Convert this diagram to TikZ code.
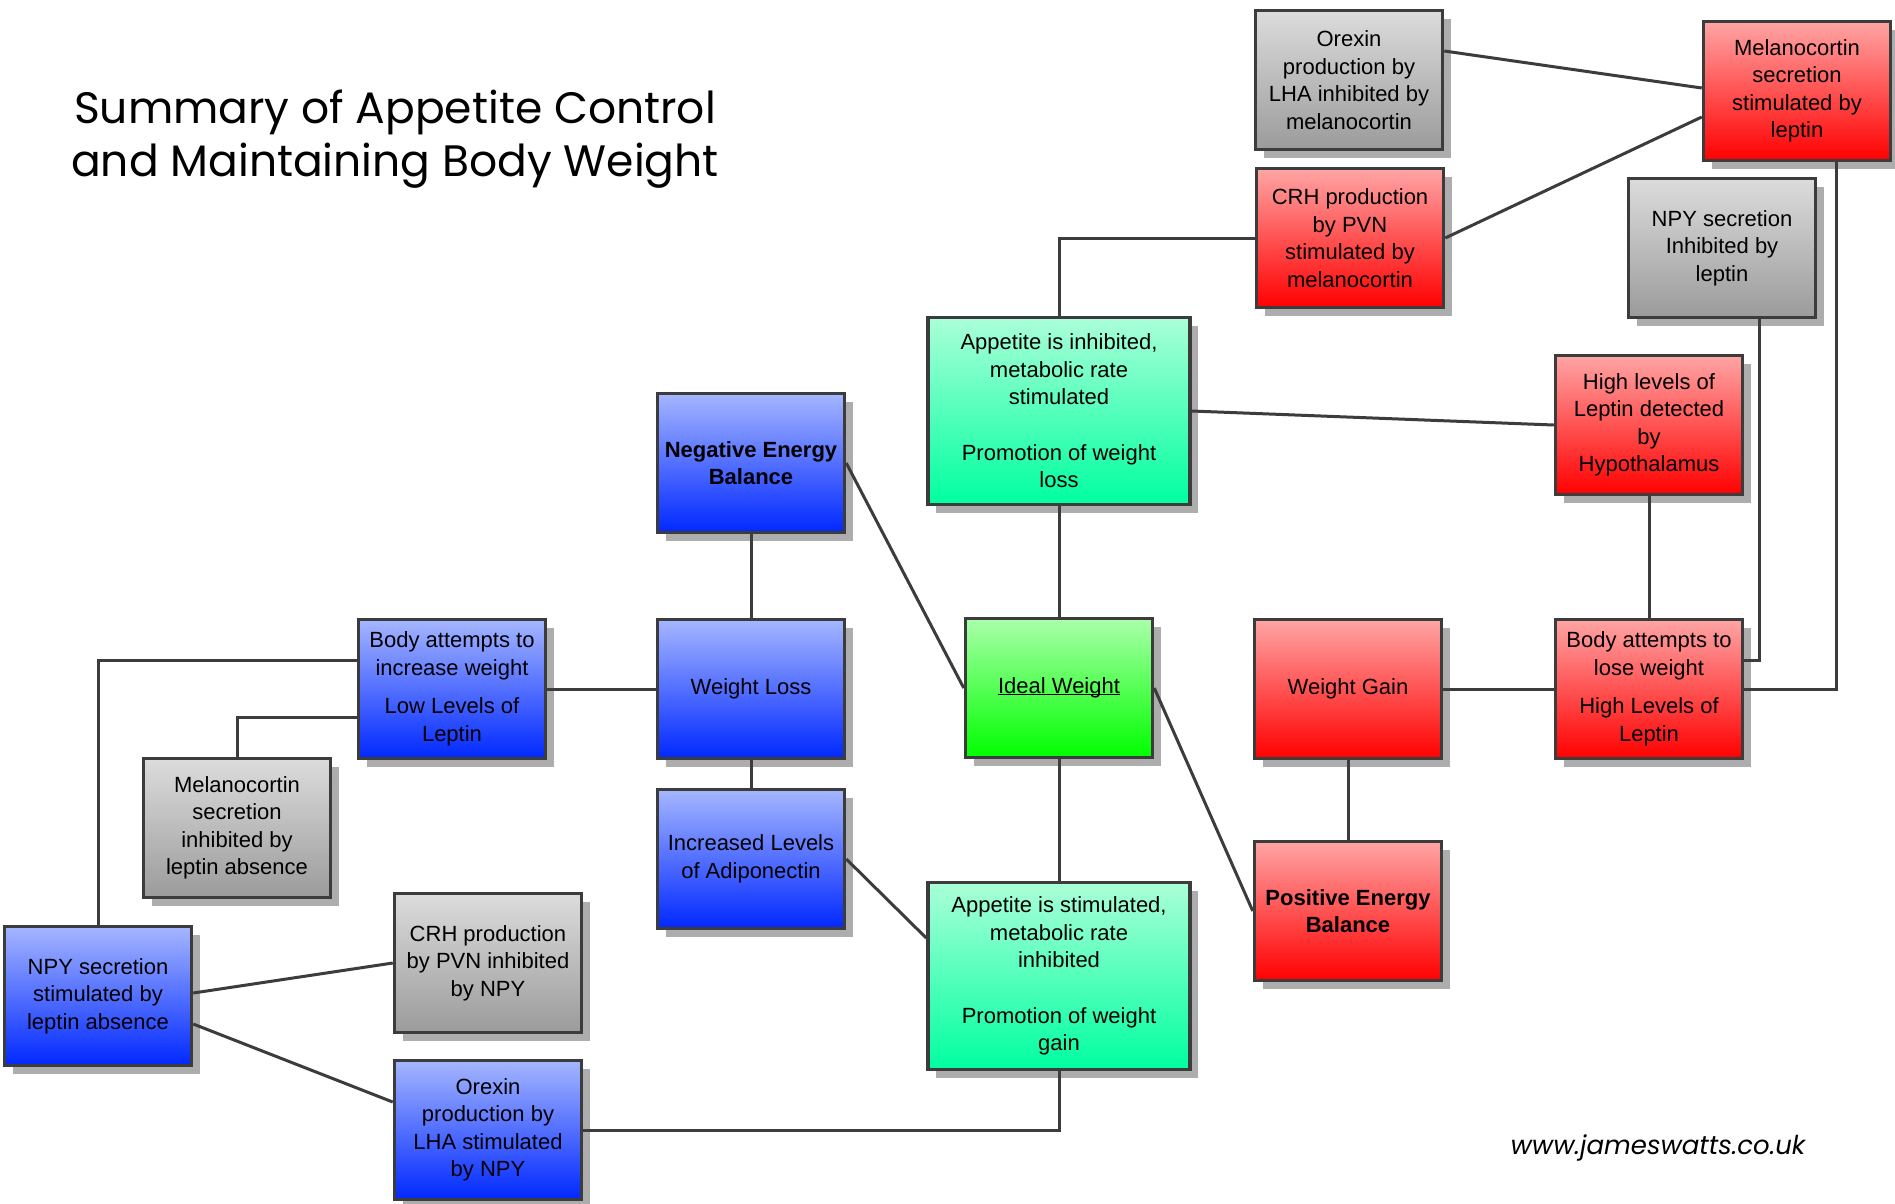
\documentclass[tikz,border=0pt]{standalone}
\usepackage{fontspec}
\setmainfont{Liberation Sans}
\newfontfamily\titlefont{Poppins}
\usetikzlibrary{shadows}

\definecolor{blueTop}{RGB}{165,182,255}
\definecolor{blueBot}{RGB}{0,40,255}
\definecolor{redTop}{RGB}{255,165,165}
\definecolor{redBot}{RGB}{255,0,0}
\definecolor{grayTop}{RGB}{220,220,220}
\definecolor{grayBot}{RGB}{155,155,155}
\definecolor{tealTop}{RGB}{170,255,215}
\definecolor{tealBot}{RGB}{0,255,160}
\definecolor{greenTop}{RGB}{170,255,170}
\definecolor{greenBot}{RGB}{0,255,0}
\definecolor{edge}{RGB}{60,60,60}

\begin{document}
\begin{tikzpicture}[
        x=1pt, y=-1pt,
        box/.style={draw=edge, line width=3.5pt, rectangle, minimum width=187pt, minimum height=139pt,
            inner sep=2pt, align=center, font=\fontsize{22}{27.5}\selectfont,
            drop shadow={shadow xshift=8pt, shadow yshift=-8pt, fill=black!32, opacity=1}},
        wide/.style={minimum width=262pt, minimum height=187pt},
        bluebox/.style={box, top color=blueTop, bottom color=blueBot},
        redbox/.style={box, top color=redTop, bottom color=redBot},
        graybox/.style={box, top color=grayTop, bottom color=grayBot},
        tealbox/.style={box, wide, top color=tealTop, bottom color=tealBot},
        greenbox/.style={box, top color=greenTop, bottom color=greenBot},
        link/.style={draw=edge, line width=3pt}
    ]
        \useasboundingbox (0,0) rectangle (1895,1203);
        \fill[white] (0,0) rectangle (1895,1203);

        % === Title and source ===
        \node[font=\titlefont\fontsize{44}{53}\selectfont, align=center] (title) at (395,139)
            {Summary of Appetite Control\\and Maintaining Body Weight};
        \node[font=\titlefont\itshape\fontsize{26}{30}\selectfont] (site) at (1658,1148) {www.jameswatts.co.uk};

        % === Hypothalamus, top right ===
        \node[graybox] (orexinInh)  at (1349,80)   {Orexin\\production by\\LHA inhibited by\\melanocortin};
        \node[redbox]  (melanoStim) at (1797,91)   {Melanocortin\\secretion\\stimulated by\\leptin};
        \node[redbox]  (crhStim)    at (1350,238)  {CRH production\\by PVN\\stimulated by\\melanocortin};
        \node[graybox] (npyInh)     at (1722,248)  {NPY secretion\\Inhibited by\\leptin};
        \node[redbox]  (highLep)    at (1649,425)  {High levels of\\Leptin detected\\by\\Hypothalamus};

        % === Middle row ===
        \node[tealbox]  (apInh)      at (1059,411) {Appetite is inhibited,\\metabolic rate\\stimulated\\[28pt]Promotion of weight\\loss};
        \node[bluebox]  (negEB)      at (751,463)  {\bfseries Negative Energy\\\bfseries Balance};
        \node[bluebox]  (weightLoss) at (751,689)  {Weight Loss};
        \node[greenbox] (idealW)     at (1059,688) {\underline{\smash{Ideal Weight}}\vphantom{Ig}};
        \node[redbox]   (weightGain) at (1348,689) {Weight Gain};
        \node[redbox]   (bodyLose)   at (1649,689) {Body attempts to\\lose weight\\[11pt]High Levels of\\Leptin};
        \node[bluebox]  (bodyInc)    at (452,689)  {Body attempts to\\increase weight\\[11pt]Low Levels of\\Leptin};

        % === Lower half ===
        \node[graybox]  (melanoInh)  at (237,828)  {Melanocortin\\secretion\\inhibited by\\leptin absence};
        \node[bluebox]  (adipo)      at (751,859)  {Increased Levels\\of Adiponectin};
        \node[tealbox]  (apStim)     at (1059,976) {Appetite is stimulated,\\metabolic rate\\inhibited\\[28pt]Promotion of weight\\gain};
        \node[redbox]   (posEB)      at (1348,911) {\bfseries Positive Energy\\\bfseries Balance};
        \node[bluebox]  (npyStim)    at (98,996)   {NPY secretion\\stimulated by\\leptin absence};
        \node[graybox]  (crhInh)     at (488,963)  {CRH production\\by PVN inhibited\\by NPY};
        \node[bluebox]  (orexinStim) at (488,1130) {Orexin\\production by\\LHA stimulated\\by NPY};

        % Connectors, right side
        \draw[link] ([yshift=29pt]orexinInh.east) -- ([yshift=3pt]melanoStim.west);
        \draw[link] (crhStim.east) -- ([yshift=-26pt]melanoStim.west);
        \draw[link] (crhStim.west) -| (apInh.north);
        \draw[link] (apInh.east) -- (highLep.west);
        \draw[link] (highLep.south) -- (bodyLose.north);
        \draw[link] ([xshift=37pt]npyInh.south) |- ([yshift=29pt]bodyLose.east);
        \draw[link] ([xshift=39pt]melanoStim.south) |- (bodyLose.east);
        \draw[link] (weightGain.east) -- (bodyLose.west);
        \draw[link] (weightGain.south) -- (posEB.north);
        \draw[link] (idealW.east) -- (posEB.west);

        % Connectors, centre and left side
        \draw[link] (negEB.east) -- (idealW.west);
        \draw[link] (apInh.south) -- (idealW.north);
        \draw[link] (idealW.south) -- (apStim.north);
        \draw[link] (negEB.south) -- (weightLoss.north);
        \draw[link] (weightLoss.south) -- (adipo.north);
        \draw[link] (weightLoss.west) -- (bodyInc.east);
        \draw[link] ([yshift=29pt]bodyInc.west) -| (npyStim.north);
        \draw[link] ([yshift=-28pt]bodyInc.west) -| (melanoInh.north);
        \draw[link] (adipo.east) -- ([yshift=38pt]apStim.west);
        \draw[link] ([yshift=3pt]npyStim.east) -- (crhInh.west);
        \draw[link] ([yshift=-28pt]npyStim.east) -- ([yshift=28pt]orexinStim.west);
        \draw[link] (orexinStim.east) -| (apStim.south);

\end{tikzpicture}
\end{document}
